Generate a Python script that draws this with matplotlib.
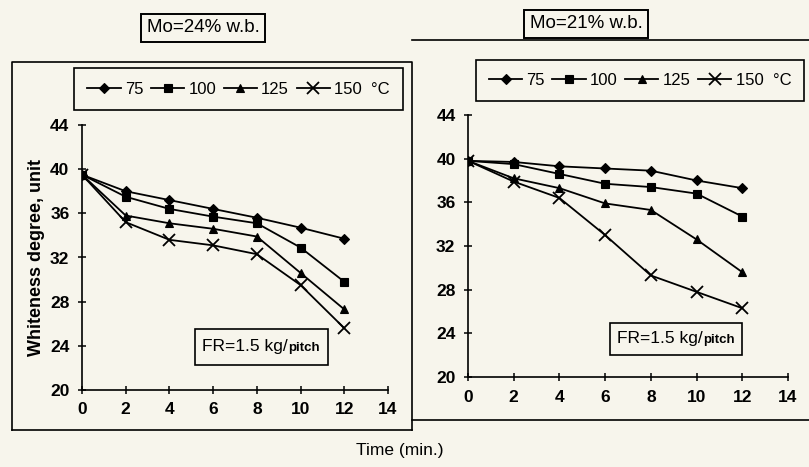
import matplotlib.pyplot as plt
from matplotlib.lines import Line2D
from matplotlib.patches import Rectangle
import numpy as np

plt.rcParams['font.family'] = ['Liberation Sans', 'DejaVu Sans']

time = [0, 2, 4, 6, 8, 10, 12]
temps = ['75', '100', '125', '150  °C']
markers = ['D', 's', '^', 'x']
msizes = [5, 6, 6, 8]

# Mo = 24% w.b.
left_vals = [
    [39.5, 38.0, 37.2, 36.4, 35.6, 34.7, 33.7],
    [39.5, 37.5, 36.4, 35.7, 35.1, 32.9, 29.8],
    [39.5, 35.8, 35.1, 34.6, 33.9, 30.6, 27.3],
    [39.5, 35.2, 33.6, 33.1, 32.3, 29.5, 25.6],
]
# Mo = 21% w.b.
right_vals = [
    [39.8, 39.7, 39.3, 39.1, 38.9, 38.0, 37.3],
    [39.8, 39.5, 38.6, 37.7, 37.4, 36.8, 34.7],
    [39.8, 38.2, 37.3, 35.9, 35.3, 32.6, 29.6],
    [39.8, 37.9, 36.4, 33.0, 29.3, 27.8, 26.3],
]

W, H = 809, 467
bg = '#f7f5ec'
fig = plt.figure(figsize=(W / 100, H / 100), dpi=100, facecolor=bg)

def px(x0, y0, x1, y1):
    # pixel box -> figure fraction [left, bottom, width, height]
    return [x0 / W, 1 - y1 / H, (x1 - x0) / W, (y1 - y0) / H]

def fline(xs, ys, lw=1.2):
    fig.add_artist(Line2D([x / W for x in xs], [1 - y / H for y in ys],
                          color='black', lw=lw, transform=fig.transFigure))

def fr_box(x0, y0, x1, y1):
    fig.add_artist(Rectangle((x0 / W, 1 - y1 / H), (x1 - x0) / W, (y1 - y0) / H,
                             transform=fig.transFigure, fc=bg, ec='black',
                             lw=1.2))
    yc = 1 - (y0 + y1) / 2 / H
    t = fig.text((x0 + 7) / W, yc, 'FR=1.5 kg/', fontsize=12.5,
                 ha='left', va='center')
    fig.canvas.draw()
    bb = t.get_window_extent()
    fig.text(bb.x1 / W, yc - 0.002, 'pitch', fontsize=9.5, fontweight='bold',
             ha='left', va='center')

def panel(box, vals, legend_box, mo_text, mo_xy, ylabel=False):
    ax = fig.add_axes(px(*box))
    ax.patch.set_alpha(0)
    for v, m, ms, lab in zip(vals, markers, msizes, temps):
        ax.plot(time, v, color='black', lw=1.3, marker=m, markersize=ms,
                markeredgewidth=1.3 if m == 'x' else 0.8, label=lab)
    ax.set_xlim(0, 14)
    ax.set_ylim(20, 44)
    ax.set_xticks(np.arange(0, 15, 2))
    ax.set_yticks(np.arange(20, 45, 4))
    for s in ['top', 'right']:
        ax.spines[s].set_visible(False)
    for s in ['left', 'bottom']:
        ax.spines[s].set_linewidth(1.2)
    ax.tick_params(direction='inout', length=6, width=1.1, labelsize=12.5,
                   pad=6)
    for t in ax.get_xticklabels() + ax.get_yticklabels():
        t.set_fontweight('bold')
    if ylabel:
        ax.set_ylabel('Whiteness degree, unit', fontsize=13,
                      fontweight='bold', labelpad=4)
    leg = fig.legend(*ax.get_legend_handles_labels(), ncol=4,
                     loc='center', bbox_to_anchor=(
                         (legend_box[0] + legend_box[2]) / 2 / W,
                         1 - (legend_box[1] + legend_box[3]) / 2 / H),
                     fontsize=12, handlelength=2.0, columnspacing=0.45,
                     handletextpad=0.25, fancybox=False, edgecolor='black',
                     facecolor=bg, framealpha=1, borderpad=0.8,
                     borderaxespad=0)
    leg.get_frame().set_linewidth(1.2)
    fig.text(mo_xy[0] / W, 1 - mo_xy[1] / H, mo_text, fontsize=13.5,
             ha='center', va='center',
             bbox=dict(boxstyle='square,pad=0.3', fc=bg, ec='black', lw=1.4))
    return ax

panel((82, 125, 388, 390), left_vals, (80, 70, 397, 108),
      'Mo=24% w.b.', (203, 28), ylabel=True)
panel((468, 115, 788, 377), right_vals, (485, 58, 795, 103),
      'Mo=21% w.b.', (586, 24))

fr_box(195, 329, 328, 365)
fr_box(610, 323, 742, 355)

# outer frames
fline([12, 12, 412, 412], [430, 62, 62, 430])
fline([12, 412], [430, 430])
fline([412, 809], [40, 40])
fline([412, 809], [420, 420])

fig.text(400 / W, 1 - 450 / H, 'Time (min.)', fontsize=12.5,
         ha='center', va='center')

fig.savefig('out.png', dpi=100, facecolor=bg)
